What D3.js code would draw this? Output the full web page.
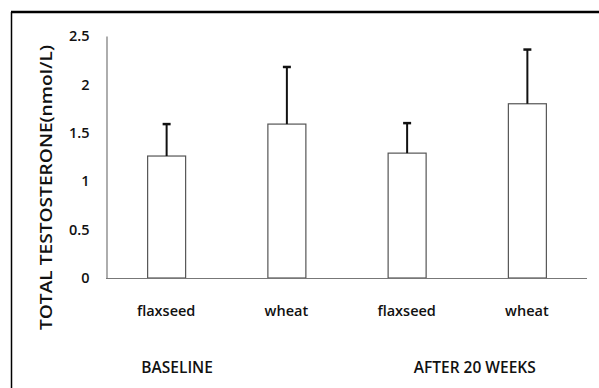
<!DOCTYPE html>
<html>
<head>
<meta charset="utf-8">
<script src="https://cdn.jsdelivr.net/npm/d3@7"></script>
<style>
  body { margin: 0; background: #fff; }
  svg { display: block; }
  text { font-family: 'Open Sans', sans-serif; fill: #111; }
</style>
</head>
<body>
<div id="chart"></div>
<script>
const CATEGORIES = ['b-flax', 'b-wheat', 'a-flax', 'a-wheat']
const CAT_LABELS = ['flaxseed', 'wheat', 'flaxseed', 'wheat']
const MEANS = [1.26, 1.59, 1.29, 1.80]
const SD = [0.33, 0.59, 0.31, 0.56]
const Y_TICKS = [0, 0.5, 1, 1.5, 2, 2.5]
const GROUP_LABELS = ['BASELINE', 'AFTER 20 WEEKS']

const width = 599, height = 388
const margin = { top: 36, right: 12, bottom: 110, left: 106 }

let svg = d3.select('#chart').append('svg')
  .attr('width', width)
  .attr('height', height)

// outer frame (only top and left edges are in the picture)
svg.append('line')
  .attr('x1', 11.5).attr('x2', 11.5)
  .attr('y1', 12).attr('y2', height)
  .attr('stroke', '#000').attr('stroke-width', 1.5)
svg.append('line')
  .attr('x1', 11).attr('x2', width)
  .attr('y1', 12).attr('y2', 12)
  .attr('stroke', '#000').attr('stroke-width', 2.5)

let x = d3.scaleBand()
  .domain(CATEGORIES)
  .range([margin.left, width - margin.right])
  .paddingInner(0.684)
  .paddingOuter(0.342)

let y = d3.scaleLinear()
  .domain([0, 2.5])
  .range([height - margin.bottom, margin.top])

let cx = (d) => x(d) + x.bandwidth() / 2

let g = svg.append('g')

// bars
g.selectAll('.bar')
  .data(CATEGORIES)
  .enter().append('rect')
    .attr('class', 'bar')
    .attr('x', (d) => x(d) + 0.5)
    .attr('y', (d, i) => y(MEANS[i]))
    .attr('width', x.bandwidth())
    .attr('height', (d, i) => y(0) - y(MEANS[i]))
    .attr('fill', '#fff')
    .attr('stroke', '#555')
    .attr('stroke-width', 1.2)

// error bars (upper half only)
let err = g.selectAll('.err')
  .data(CATEGORIES)
  .enter().append('g')
    .attr('class', 'err')
    .attr('transform', (d) => 'translate(' + (cx(d) + 0.5) + ',0)')

err.append('line')
  .attr('y1', (d, i) => y(MEANS[i]))
  .attr('y2', (d, i) => y(MEANS[i] + SD[i]))
  .attr('stroke', '#111')
  .attr('stroke-width', 2)

err.append('line')
  .attr('x1', -4).attr('x2', 4)
  .attr('y1', (d, i) => y(MEANS[i] + SD[i]))
  .attr('y2', (d, i) => y(MEANS[i] + SD[i]))
  .attr('stroke', '#111')
  .attr('stroke-width', 2.5)

// axes
let yAxis = d3.axisLeft(y)
  .tickValues(Y_TICKS)
  .tickSize(0)
  .tickPadding(17)
  .tickFormat(d3.format('~g'))

let ya = svg.append('g')
  .attr('transform', 'translate(' + (margin.left + 0.5) + ',0)')
  .call(yAxis)
ya.select('.domain').attr('stroke', '#777').attr('stroke-width', 1.2)
ya.selectAll('text')
  .attr('font-size', 14.5)
  .attr('font-weight', 600)
  .attr('font-family', "'Open Sans', sans-serif")
  .attr('fill', '#111')

let xAxis = d3.axisBottom(x)
  .tickSize(0)
  .tickPadding(27)
  .tickFormat((d, i) => CAT_LABELS[i])

let xa = svg.append('g')
  .attr('transform', 'translate(0,' + (y(0) + 0.5) + ')')
  .call(xAxis)
xa.select('.domain')
  .attr('d', 'M' + margin.left + ',0H' + (width - margin.right))
  .attr('stroke', '#777').attr('stroke-width', 1.2)
xa.selectAll('text')
  .attr('font-size', 14.5)
  .attr('font-weight', 600)
  .attr('font-family', "'Open Sans', sans-serif")
  .attr('fill', '#111')

// group labels below the categories
let groupX = [
  cx(CATEGORIES[0]) + 11,
  (cx(CATEGORIES[2]) + cx(CATEGORIES[3])) / 2 + 8
]
svg.selectAll('.group')
  .data(GROUP_LABELS)
  .enter().append('text')
    .attr('class', 'group')
    .attr('x', (d, i) => groupX[i])
    .attr('y', 372.5)
    .attr('text-anchor', 'middle')
    .attr('font-size', 15.5)
    .attr('font-weight', 600)
    .text((d) => d)

// y title
svg.append('text')
  .attr('transform', 'translate(52,187.5) rotate(-90)')
  .attr('text-anchor', 'middle')
  .attr('font-size', 16.5)
  .attr('font-weight', 600)
  .attr('textLength', 285)
  .attr('lengthAdjust', 'spacingAndGlyphs')
  .text('TOTAL TESTOSTERONE(nmol/L)')
</script>
</body>
</html>
